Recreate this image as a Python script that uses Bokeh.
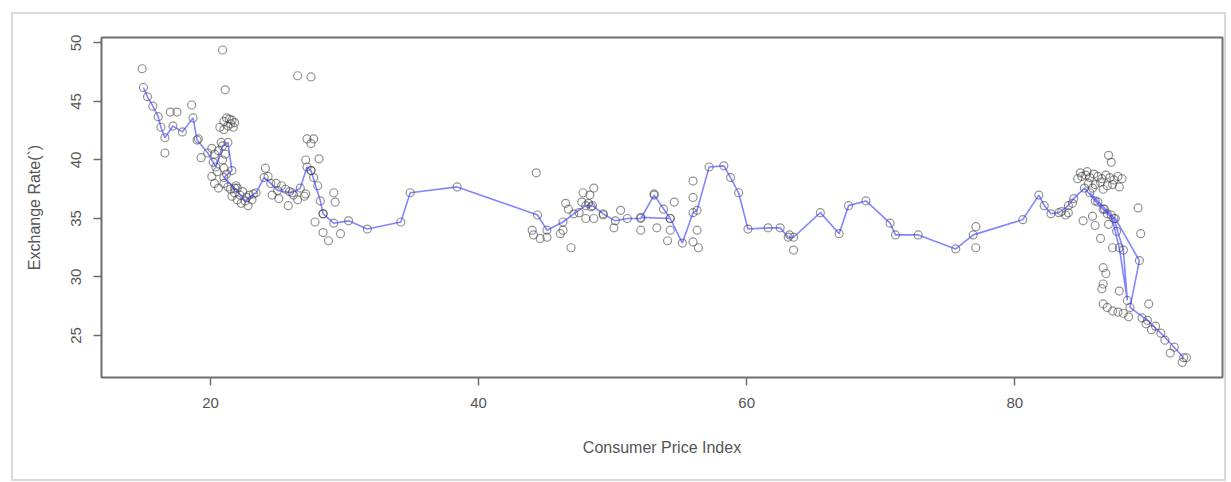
from bokeh.plotting import figure
from bokeh.models import Range1d, FixedTicker
from bokeh.embed import file_html
from bokeh.resources import INLINE

# Fitted path through the observations (in time order)
fit_cpi = [15.0, 15.3, 15.7, 16.1, 16.3, 16.6, 17.2, 17.9, 18.7, 19.0, 19.8, 20.4,
           20.9, 21.3, 21.6, 21.0, 21.8, 22.6, 23.4, 24.0, 24.5, 25.0, 26.1, 26.7,
           27.2, 27.5, 28.2, 28.4, 29.2, 30.3, 31.7, 34.2, 34.9, 38.4, 44.4, 45.1,
           46.3, 47.1, 48.0, 48.5, 49.3, 50.2, 51.1, 52.1, 53.1, 54.3, 52.1, 54.3,
           55.2, 56.0, 56.3, 57.2, 58.3, 58.8, 59.4, 60.1, 61.6, 62.5, 63.1, 63.5,
           65.5, 66.9, 67.6, 68.9, 70.7, 71.1, 72.8, 75.6, 76.9, 80.6, 81.8, 82.2,
           82.7, 83.3, 84.0, 84.4, 85.2, 86.0, 86.9, 87.4, 88.1, 88.4, 87.8, 87.2,
           85.6, 86.6, 87.5, 89.3, 88.6, 89.9, 90.9, 91.9, 92.6]
fit_rate = [46.2, 45.4, 44.6, 43.7, 42.8, 41.9, 42.9, 42.4, 43.6, 41.7, 40.6, 39.4,
            41.2, 41.5, 39.1, 38.5, 37.6, 36.5, 37.2, 38.5, 38.0, 37.4, 37.2, 37.6,
            39.4, 39.1, 36.5, 35.4, 34.6, 34.8, 34.1, 34.7, 37.2, 37.7, 35.3, 34.0,
            34.7, 35.4, 36.1, 36.1, 35.4, 34.8, 35.0, 35.0, 37.0, 35.0, 35.1, 35.0,
            32.9, 35.5, 35.7, 39.4, 39.5, 38.5, 37.2, 34.1, 34.2, 34.2, 33.4, 33.4,
            35.5, 33.7, 36.1, 36.5, 34.6, 33.6, 33.6, 32.4, 33.6, 34.9, 37.0, 36.1,
            35.4, 35.5, 36.1, 36.7, 37.6, 36.5, 35.4, 35.0, 32.3, 28.0, 32.5, 35.3,
            37.2, 35.8, 35.0, 31.4, 27.4, 26.3, 25.2, 24.0, 23.1]

# Remaining observations
obs_cpi = [14.9, 20.9, 21.1, 17.0, 17.5, 18.6, 16.6, 19.1, 19.3,
           21.0, 21.2, 21.4, 21.6, 21.8, 21.3, 21.7, 21.0, 20.7, 21.5,
           20.1, 20.3, 20.6, 20.2, 20.5, 20.1, 20.3, 20.6, 20.9, 21.0, 21.2, 21.0, 21.3, 20.8, 21.1,
           21.5, 21.8, 22.0, 22.2, 22.4, 22.7, 22.9, 23.1, 21.6, 22.0, 22.3, 22.8, 21.9, 23.2,
           24.1, 24.3, 24.9, 25.3, 25.6, 25.9, 26.2, 24.6, 25.1, 25.8, 26.5, 27.1, 27.0,
           27.2, 27.7, 27.5, 27.1, 28.1, 27.5, 29.2, 29.3, 27.8, 28.4, 28.8, 29.7, 28.4,
           26.5, 27.5, 27.7, 28.0,
           44.3, 44.0, 44.1, 44.6, 45.1, 46.9, 46.1, 46.3, 46.5, 46.7, 47.8, 48.6, 48.3,
           47.5, 48.0, 48.6, 49.3, 47.7, 48.2, 48.4, 50.1, 50.6, 52.1, 53.1, 53.3, 53.8,
           54.6, 54.1, 54.3, 56.0, 56.3, 56.0, 56.0, 56.4, 63.5, 63.2, 77.1, 77.1,
           87.0, 87.2, 84.7, 85.0, 85.3, 85.6, 85.9, 86.2, 86.5, 86.8, 87.1, 87.4, 87.7,
           88.0, 85.5, 86.0, 86.4, 86.9, 87.3, 87.8, 85.8, 86.6, 84.9, 85.4,
           89.2, 89.4, 84.0, 85.1, 85.8, 86.0, 86.4, 87.3, 86.6, 86.8, 86.6, 86.5, 87.8,
           86.6, 86.9, 87.3, 87.7, 88.1, 88.5, 90.0, 89.5, 89.8, 90.2, 90.5, 91.2, 91.6,
           92.5, 92.8, 86.2, 86.7, 87.0, 87.6, 84.3, 83.8, 83.5]
obs_rate = [47.8, 49.4, 46.0, 44.1, 44.1, 44.7, 40.6, 41.8, 40.2,
            43.3, 43.6, 43.5, 43.4, 43.2, 42.9, 42.8, 42.6, 42.8, 43.1,
            41.0, 40.5, 40.8, 39.8, 39.0, 38.6, 38.0, 37.6, 40.0, 39.3, 38.8, 38.0, 37.7, 41.5, 40.5,
            37.5, 37.2, 37.6, 37.0, 37.3, 36.8, 37.0, 36.6, 36.9, 36.6, 36.3, 36.1, 37.8, 37.1,
            39.3, 38.6, 38.0, 37.8, 37.5, 37.3, 37.0, 37.0, 36.7, 36.1, 36.6, 37.1, 36.9,
            41.8, 41.8, 41.4, 40.0, 40.1, 39.1, 37.2, 36.4, 34.7, 33.8, 33.1, 33.7, 35.4,
            47.2, 47.1, 38.5, 37.8,
            38.9, 34.0, 33.6, 33.3, 33.4, 32.5, 33.7, 34.0, 36.3, 35.8, 37.2, 37.6, 37.0,
            35.5, 35.0, 35.0, 35.3, 36.4, 36.3, 36.0, 34.2, 35.7, 34.0, 37.1, 34.2, 35.8,
            36.4, 33.1, 34.0, 38.2, 34.0, 36.8, 33.0, 32.5, 32.3, 33.6, 34.3, 32.5,
            40.4, 39.8, 38.4, 38.6, 38.7, 38.5, 38.8, 38.6, 38.4, 38.7, 38.5, 38.3, 38.6,
            38.4, 38.0, 37.9, 38.1, 37.8, 37.9, 37.7, 37.6, 37.5, 38.9, 39.0,
            35.9, 33.7, 35.5, 34.8, 35.2, 34.4, 33.3, 32.5, 30.8, 30.3, 29.4, 29.0, 28.8,
            27.7, 27.4, 27.1, 27.0, 26.9, 26.6, 27.7, 26.5, 26.0, 25.5, 25.8, 24.6, 23.5,
            22.7, 23.1, 36.4, 35.8, 34.5, 33.9, 36.3, 35.3, 35.6]

x_ticks = [20, 40, 60, 80]
y_ticks = [25, 30, 35, 40, 45, 50]

FONT = "Liberation Sans"
GREY = "#555555"

# the graphic sits inside a light framed panel
p = figure(width=1215, height=469, output_backend="svg", toolbar_location=None,
           x_range=Range1d(11.87, 95.5), y_range=Range1d(21.41, 50.47),
           min_border_left=88, min_border_right=6, min_border_top=23,
           min_border_bottom=106,
           styles={"border": "2px solid #d9d9d9", "margin-left": "11px",
                   "margin-top": "12px"})

p.grid.visible = False
p.background_fill_color = "white"
p.border_fill_color = "white"
p.outline_line_color = "#6e6e6e"
p.outline_line_width = 2

for ax in (p.xaxis[0], p.yaxis[0]):
    ax.axis_line_color = None
    ax.major_tick_line_color = "#6e6e6e"
    ax.major_tick_line_width = 1.5
    ax.major_tick_out = 8
    ax.major_tick_in = 0
    ax.minor_tick_line_color = None
    ax.major_label_text_font = FONT
    ax.major_label_text_font_size = "15px"
    ax.major_label_text_color = GREY
    ax.axis_label_text_font = FONT
    ax.axis_label_text_font_size = "16px"
    ax.axis_label_text_font_style = "normal"
    ax.axis_label_text_color = GREY
    ax.major_label_standoff = 12

p.xaxis.ticker = FixedTicker(ticks=x_ticks)
p.yaxis.ticker = FixedTicker(ticks=y_ticks)
p.yaxis.major_label_orientation = "vertical"
p.xaxis.axis_label = "Consumer Price Index"
p.yaxis.axis_label = "Exchange Rate(`)"
p.xaxis.axis_label_standoff = 28
p.yaxis.axis_label_standoff = 26

# observations as open circles
p.scatter(obs_cpi + fit_cpi, obs_rate + fit_rate, marker="circle", size=8,
          fill_color=None, line_color="#3a3a3a", line_alpha=0.55, line_width=1.2)

# fitted path
p.line(fit_cpi, fit_rate, line_color="#3333ff", line_alpha=0.6, line_width=1.6)

open("out.html", "w").write(file_html(p, INLINE))
